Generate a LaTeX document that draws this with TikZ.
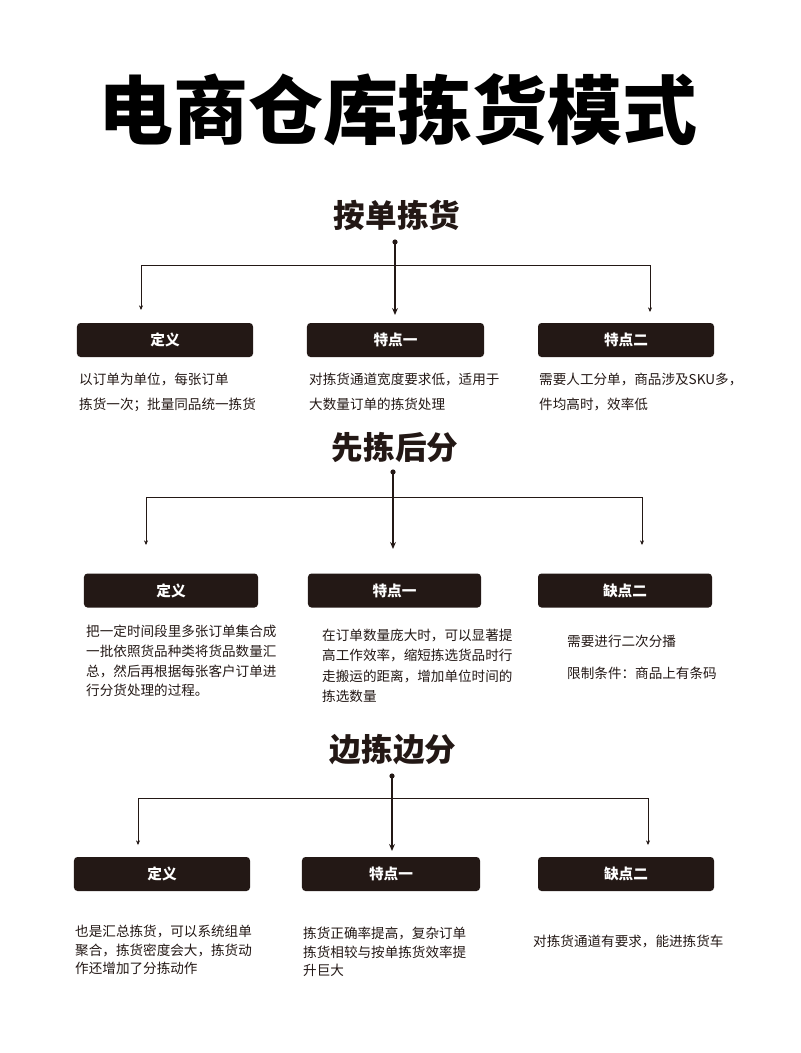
\documentclass[tikz,border=0pt]{standalone}
\usepackage{fontspec}
\setmainfont{Noto Sans CJK SC}
\usetikzlibrary{arrows.meta}
\definecolor{dk}{HTML}{231815}
\begin{document}
\begin{tikzpicture}[x=0.03cm,y=-0.03cm,
 box/.style={fill=dk,rounded corners=3pt,minimum height=1.02cm,text=white,font=\fontsize{12.5}{14}\selectfont\bfseries},
 sec/.style={font=\fontsize{27}{30}\selectfont\bfseries,text=dk},
 txt/.style={anchor=north west,align=left,font=\fontsize{11.6}{21}\selectfont,text=dk,inner sep=0},
 side/.style={draw=dk,line width=0.6pt,-{Stealth[length=4pt,width=3.5pt]}},
 mid/.style={draw=dk,line width=1.4pt,-{Stealth[length=6pt,width=5pt]}}]
\useasboundingbox (0,0) rectangle (800,1053);
\node[font=\fontsize{64}{68}\selectfont\bfseries,text=black] (title) at (398,110) {电商仓库拣货模式};
% section 1
\node[sec] (s1) at (397,215) {按单拣货};
\coordinate (h1l) at (141,265); \coordinate (h1r) at (650,265);
\node[box,minimum width=5.28cm] (b11) at (165,340) {定义};
\node[box,minimum width=5.31cm] (b12) at (395.5,340) {特点一};
\node[box,minimum width=5.28cm] (b13) at (626,340) {特点二};
\coordinate (t1) at (395,242);
\fill[dk] (t1) circle (2.6);
\draw[dk,line width=0.6pt] (h1l) -- (h1r);
\draw[side] (h1l) -- (141,310);
\draw[side] (h1r) -- (650,312);
\draw[mid] (t1) -- (395,315);
\node[txt] (x11) at (79,373) {以订单为单位，每张订单\\拣货一次；批量同品统一拣货};
\node[txt] (x12) at (309,373) {对拣货通道宽度要求低，适用于\\大数量订单的拣货处理};
\node[txt] (x13) at (539,373) {需要人工分单，商品涉及SKU多，\\件均高时，效率低};
% section 2
\node[sec] (s2) at (395,447) {先拣后分};
\coordinate (h2l) at (146,497); \coordinate (h2r) at (642,497);
\node[box,minimum width=5.22cm] (b21) at (171,590.5) {定义};
\node[box,minimum width=5.19cm] (b22) at (394.5,590.5) {特点一};
\node[box,minimum width=5.22cm] (b23) at (625,590.5) {缺点二};
\coordinate (t2) at (393,472);
\fill[dk] (t2) circle (2.6);
\draw[dk,line width=0.6pt] (h2l) -- (h2r);
\draw[side] (h2l) -- (146,545);
\draw[side] (h2r) -- (642,545);
\draw[mid] (t2) -- (393,549);
\node[txt,font=\fontsize{11.6}{16.8}\selectfont] (x21) at (86,625) {把一定时间段里多张订单集合成\\一批依照货品种类将货品数量汇\\总，然后再根据每张客户订单进\\行分货处理的过程。};
\node[txt,font=\fontsize{11.6}{17.2}\selectfont] (x22) at (322,629) {在订单数量庞大时，可以显著提\\高工作效率，缩短拣选货品时行\\走搬运的距离，增加单位时间的\\拣选数量};
\node[txt,font=\fontsize{11.6}{27.5}\selectfont] (x23) at (567,635) {需要进行二次分播\\限制条件：商品上有条码};
% section 3
\node[sec] (s3) at (393,750) {边拣边分};
\coordinate (h3l) at (138,798); \coordinate (h3r) at (648,798);
\node[box,minimum width=5.28cm] (b31) at (162,874) {定义};
\node[box,minimum width=5.34cm] (b32) at (391,874) {特点一};
\node[box,minimum width=5.28cm] (b33) at (626,874) {缺点二};
\coordinate (t3) at (392,776);
\fill[dk] (t3) circle (2.6);
\draw[dk,line width=0.6pt] (h3l) -- (h3r);
\draw[side] (h3l) -- (138,845);
\draw[side] (h3r) -- (648,845);
\draw[mid] (t3) -- (392,851);
\node[txt,font=\fontsize{11.6}{15.6}\selectfont] (x31) at (75,925) {也是汇总拣货，可以系统组单\\聚合，拣货密度会大，拣货动\\作还增加了分拣动作};
\node[txt,font=\fontsize{11.6}{15.6}\selectfont] (x32) at (303,927) {拣货正确率提高，复杂订单\\拣货相较与按单拣货效率提\\升巨大};
\node[txt] (x33) at (533,935) {对拣货通道有要求，能进拣货车};
\end{tikzpicture}
\end{document}
